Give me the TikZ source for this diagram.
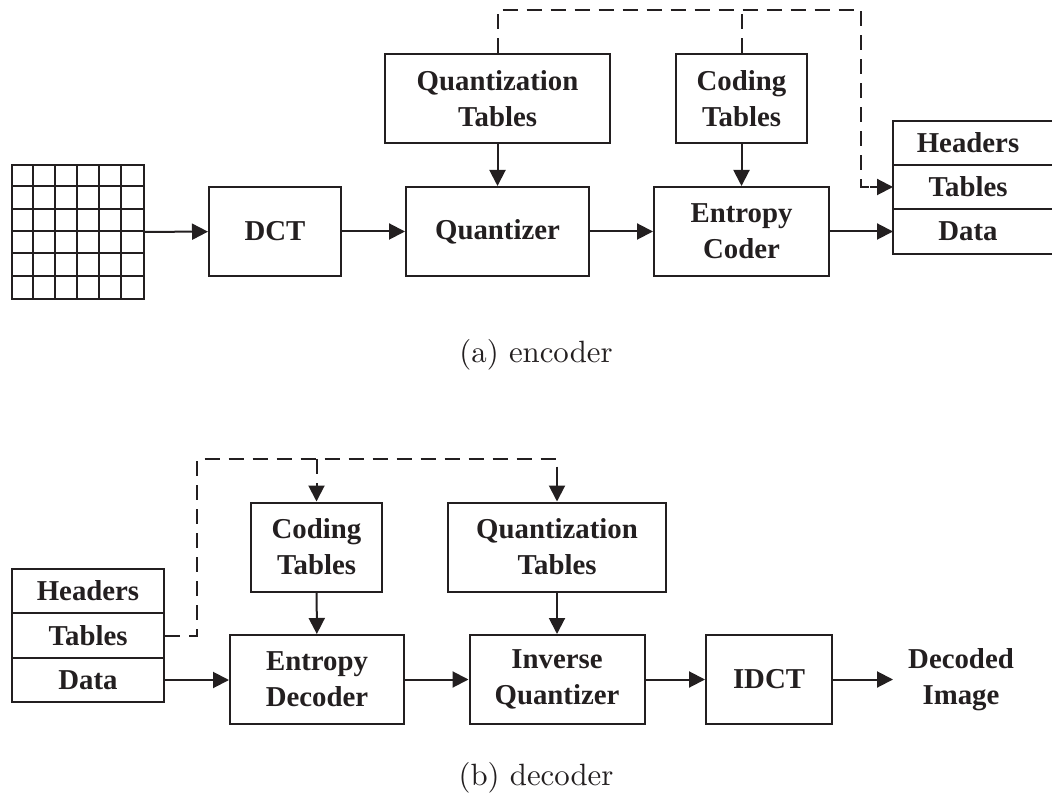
\documentclass[tikz,border=0pt]{standalone}
\usepackage{fontspec}
\newfontfamily\tnr{Liberation Serif}
\newfontfamily\capfont{lmroman10-regular.otf}
\usetikzlibrary{arrows.meta,calc}
\definecolor{ink}{RGB}{35,31,32}
\tikzset{
  blk/.style={draw=ink, rectangle, inner sep=0pt, minimum height=44.5pt,
    align=center, text=ink, font=\tnr\bfseries\fontsize{14.4}{18}\selectfont},
  rowbox/.style={blk, minimum height=22.2pt, minimum width=76pt},
  rowtext/.style={blk, draw=none, minimum height=22.2pt, minimum width=75pt},
  lbl/.style={blk, draw=none},
  captext/.style={text=ink, inner sep=0pt, font=\capfont\fontsize{15.4}{18}\selectfont},
  flow/.style={draw=ink, line width=1pt, -{Triangle[length=8pt,width=8pt]}},
  dl/.style={draw=ink, line width=1pt, dash pattern=on 7.5pt off 4.5pt},
}
\begin{document}
\begin{tikzpicture}[x=0.5pt, y=-0.5pt, line width=1pt]
\useasboundingbox (0,0) rectangle (1052,795);

% ---------- encoder ----------
% 6x6 block of image samples
\node[draw=ink, inner sep=0pt, minimum width=66pt, minimum height=67pt] (img) at (78,232) {};
\foreach \i in {1,...,5} {
  \draw[ink] ($(img.south west)+(22*\i,0)$) -- ($(img.north west)+(22*\i,0)$);
  \draw[ink] ($(img.north west)+(0,22.33*\i)$) -- ($(img.north east)+(0,22.33*\i)$);
}
\node[blk, minimum width=66pt]    (dct)   at (275,231.5)   {DCT};
\node[blk, minimum width=91.5pt]  (quant) at (497.5,231.5) {Quantizer};
\node[blk, minimum width=112.5pt] (qtab)  at (497.5,98.5)  {Quantization\\Tables};
\node[blk, minimum width=87.5pt]  (enc)   at (741.5,231.5) {Entropy\\Coder};
\node[blk, minimum width=65.5pt]  (ctab)  at (741.5,98.5)  {Coding\\Tables};

% compressed stream (continues past the right edge)
\node[rowtext] (hdr1) at (968,143) {Headers};
\node[rowtext] (tab1) at (968,187) {Tables};
\node[rowtext] (dat1) at (968,231.5) {Data};
\draw[ink] (1070,121) -- (893,121) -- (893,254) -- (1070,254);
\draw[ink] (893,165) -- (1070,165);
\draw[ink] (893,209) -- (1070,209);
\coordinate (tabin1) at (893,187);
\coordinate (datin1) at (893,231.5);

\draw[flow] (img) -- (dct);
\draw[flow] (dct) -- (quant);
\draw[flow] (quant) -- (enc);
\draw[flow] (enc.east) -- (datin1);
\draw[flow] (qtab) -- (quant);
\draw[flow] (ctab) -- (enc);

\coordinate (etop) at (861,10);
\draw[dl] (qtab.north) |- (etop) -- (861,187) -- (875,187);
\draw[dl] (ctab.north) -- (ctab.north |- etop);
\draw[flow] (870,187) -- (tabin1);

\node[captext, anchor=base] (capa) at (536,363) {(a) encoder};

% ---------- decoder ----------
\node[rowbox] (hdr2) at (88,591)   {Headers};
\node[rowbox] (tab2) at (88,635.5) {Tables};
\node[rowbox] (dat2) at (88,680)   {Data};

\node[blk, minimum width=65.5pt] (ctab2) at (316.5,547)   {Coding\\Tables};
\node[blk, minimum width=87pt]   (dec)   at (317,679.5)   {Entropy\\Decoder};
\node[blk, minimum width=109pt]  (qtab2) at (557,547)     {Quantization\\Tables};
\node[blk, minimum width=87.5pt] (iq)    at (557,679.5)   {Inverse\\Quantizer};
\node[blk, minimum width=63pt]   (idct)  at (769,679.5)   {IDCT};
\node[lbl, inner sep=0pt] (out) at (961,679.5) {Decoded\\Image};
\coordinate (outin) at (893,679.5);

\draw[flow] (dat2.east) -- (dec.west |- dat2.east);
\draw[flow] (ctab2) -- (dec);
\draw[flow] (qtab2) -- (iq);
\draw[flow] (dec) -- (iq);
\draw[flow] (iq) -- (idct);
\draw[flow] (idct.east) -- (outin);

\coordinate (dtop) at (197,459);
\draw[dl] (tab2.east) -| (dtop) -| ($(qtab2.north)+(0,-30)$);
\draw[flow] ($(qtab2.north)+(0,-32)$) -- (qtab2.north);
\draw[flow, dl] (ctab2.north |- dtop) -- (ctab2.north);

\node[captext, anchor=base] (capb) at (536,785) {(b) decoder};
\end{tikzpicture}
\end{document}
